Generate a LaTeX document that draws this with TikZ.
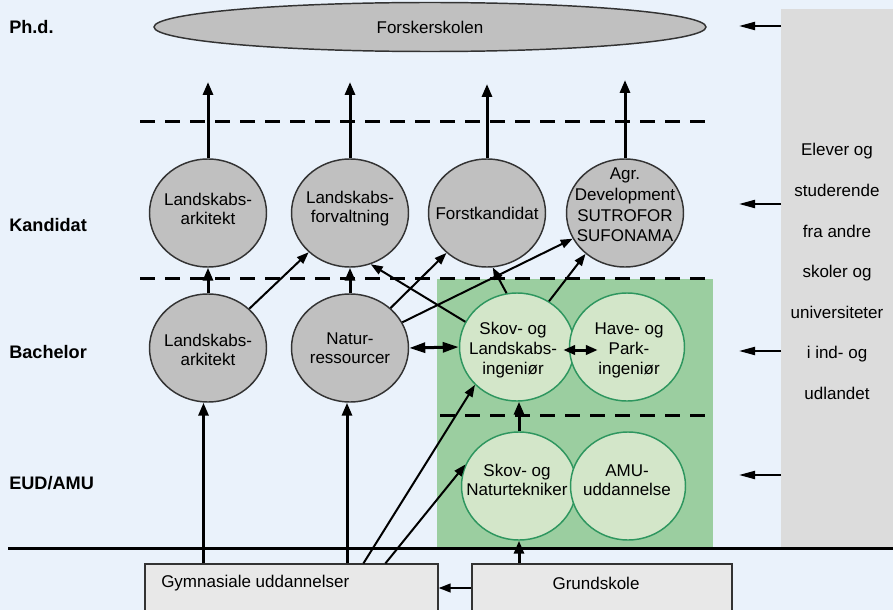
\documentclass[tikz,border=0pt]{standalone}
\usepackage{fontspec}
\setmainfont{Liberation Sans}
\usetikzlibrary{shapes.geometric,arrows.meta,calc}
\definecolor{bgblue}{RGB}{234,242,251}
\definecolor{circgray}{RGB}{192,192,192}
\definecolor{greenbg}{RGB}{155,206,160}
\definecolor{lightgreen}{RGB}{211,230,201}
\definecolor{greenline}{RGB}{46,150,95}
\definecolor{panelgray}{RGB}{220,220,220}
\definecolor{boxgray}{RGB}{232,232,232}
\definecolor{edgegray}{RGB}{51,51,51}
\begin{document}
\begin{tikzpicture}[x=0.75pt,y=-0.75pt,
  txt/.style={font=\fontsize{12.75}{14.25}\selectfont, align=center, text=black, inner sep=0pt},
  lbl/.style={font=\bfseries\fontsize{13.6}{16}\selectfont, anchor=west, inner sep=0pt},
  gcirc/.style={ellipse, draw=edgegray, line width=1.1pt, fill=circgray, minimum width=87.75pt, minimum height=81pt, txt, inner sep=-20pt},
  lgcirc/.style={ellipse, draw=greenline, line width=1.1pt, fill=lightgreen, minimum width=86.25pt, minimum height=81pt, txt, inner sep=-20pt},
  boxnode/.style={draw=edgegray, line width=0.9pt, fill=boxgray, inner sep=0pt, minimum height=36pt},
  thickarrow/.style={line width=2.25pt, -{Triangle[length=9.75pt,width=7.5pt]}},
  thinarrow/.style={line width=1.5pt, -{Triangle[length=9pt,width=6.5pt]}},
  sidearrow/.style={line width=1.5pt, -{Triangle[length=12pt,width=6pt]}},
  dblarrow/.style={line width=2.25pt, {Triangle[length=12pt,width=7.5pt]}-{Triangle[length=12pt,width=7.5pt]}},
  dblarrowsmall/.style={line width=2.25pt, {Triangle[length=9pt,width=7pt]}-{Triangle[length=9pt,width=7pt]}},
  dashline/.style={line width=2.25pt, dash pattern=on 11.25pt off 7.5pt}
]
\useasboundingbox (0,0) rectangle (893,610);
\fill[bgblue] (0,0) rectangle (893,610);
% green area and side panel
\fill[greenbg] (437,279) rectangle (713,548);
\node[fill=panelgray, minimum width=84pt, minimum height=403.5pt, inner sep=0pt, anchor=north west] (ext) at (781,9) {};
\node[font=\fontsize{12.75}{30.4}\selectfont, align=center, inner sep=0pt] (exttxt) at (837,271.5)
  {Elever og\\studerende\\fra andre\\skoler og\\universiteter\\i ind- og\\udlandet};
% dashed level separators and base line
\draw[dashline] (140,122) -- (710,122);
\draw[dashline] (140,278) -- (713,278);
\draw[dashline] (440,415) -- (712,415);
\draw[line width=2.25pt] (8,548) -- (893,548);
% level labels
\node[lbl] (lphd) at (9,27) {Ph.d.};
\node[lbl] (lkand) at (9,225) {Kandidat};
\node[lbl] (lbach) at (9,352) {Bachelor};
\node[lbl] (leud) at (9,483) {EUD/AMU};
% Ph.d.
\node[gcirc, minimum width=414pt, minimum height=36.75pt] (phd) at (430,27) {Forskerskolen};
% Kandidat
\node[gcirc] (k1) at (208,213) {};
\node[txt] (k1txt) at (208,209) {Landskabs-\\arkitekt};
\node[gcirc] (k2) at (350,213) {};
\node[txt] (k2txt) at (350,209) {Landskabs-\\forvaltning};
\node[gcirc] (k3) at (487,213) {Forstkandidat};
\node[gcirc] (k4) at (625,213) {};
\node[txt, font=\fontsize{12.75}{15.5}\selectfont] (k4txt) at (625,205) {Agr.\\Development\\SUTROFOR\\SUFONAMA};
% Bachelor
\node[gcirc] (b1) at (208,348) {};
\node[txt] (b1txt) at (208,350) {Landskabs-\\arkitekt};
\node[gcirc] (b2) at (350,348) {Natur-\\ressourcer};
\node[lgcirc] (skov) at (517,347) {};
\node[txt, font=\fontsize{12.75}{15}\selectfont] (skovtxt) at (513,350) {Skov- og\\Landskabs-\\ingeniør};
\node[lgcirc] (have) at (627,347) {};
\node[txt, font=\fontsize{12.75}{15}\selectfont] (havetxt) at (629,350) {Have- og\\Park-\\ingeniør};
% EUD/AMU
\node[lgcirc] (nt) at (519,486) {};
\node[txt] (nttxt) at (517,480) {Skov- og\\Naturtekniker};
\node[lgcirc] (amu) at (628,486) {};
\node[txt] (amutxt) at (627,480) {AMU-\\uddannelse};
% bottom boxes
\node[boxnode, minimum width=219.75pt] (gym) at (291.5,588) {};
\node[txt, anchor=west] (gymtxt) at (161,583) {Gymnasiale uddannelser};
\node[boxnode, minimum width=195pt] (grund) at (602,588) {};
\node[txt] (grundtxt) at (596,583) {Grundskole};
% arrow end points
\coordinate (t1) at (208,82);
\coordinate (t2) at (350,82);
\coordinate (t3) at (487,84);
\coordinate (t4) at (625,80);
\coordinate (r1) at (739,26);
\coordinate (r2) at (739,204);
\coordinate (r3) at (739,351);
\coordinate (r4) at (739,475);
% Kandidat -> Ph.d.
\draw[thickarrow] (k1.north) -- (t1);
\draw[thickarrow] (k2.north) -- (t2);
\draw[thickarrow] (k3.north) -- (t3);
\draw[thickarrow] (k4.north) -- (t4);
% Bachelor -> Kandidat
\draw[thickarrow] (b1.north) -- (k1.south);
\draw[thickarrow] (b2.north) -- (k2.south);
\draw[thinarrow] (b1) -- (k2);
\draw[thinarrow] (b2) -- (k3);
\draw[thinarrow] (b2) -- (k4);
\draw[thinarrow] (skov.154) -- (k2.292);
\draw[thinarrow] (skov.101) -- (k3.276);
\draw[thinarrow] (skov.55) -- (k4.226);
% Bachelor exchanges
\draw[dblarrow] (b2.east) -- (skov.west);
\draw[dblarrowsmall] ($(skov.east)+(-12,3)$) -- ($(have.west)+(29,3)$);
% EUD -> Bachelor
\draw[thickarrow] (nt.north) -- (nt.north |- skov.south);
% from schools
\draw[thickarrow] ($(b1.south |- gym.north)+(-4.5,0)$) -- ($(b1.south)+(-4.5,0)$);
\draw[thickarrow] ($(b2.south |- gym.north)+(-3,0)$) -- ($(b2.south)+(-3,0)$);
\draw[thinarrow] ($(gym.north west)+(219,0)$) -- (skov.222);
\draw[thinarrow] ($(gym.north west)+(241,0)$) -- (nt.158);
\draw[thickarrow] (grund.north -| nt.south) -- (nt.south);
\draw[thinarrow] (grund.west) -- (gym.east);
% from other schools
\draw[sidearrow] (r1 -| ext.west) -- (r1);
\draw[sidearrow] (r2 -| ext.west) -- (r2);
\draw[sidearrow] (r3 -| ext.west) -- (r3);
\draw[sidearrow] (r4 -| ext.west) -- (r4);
\end{tikzpicture}
\end{document}
